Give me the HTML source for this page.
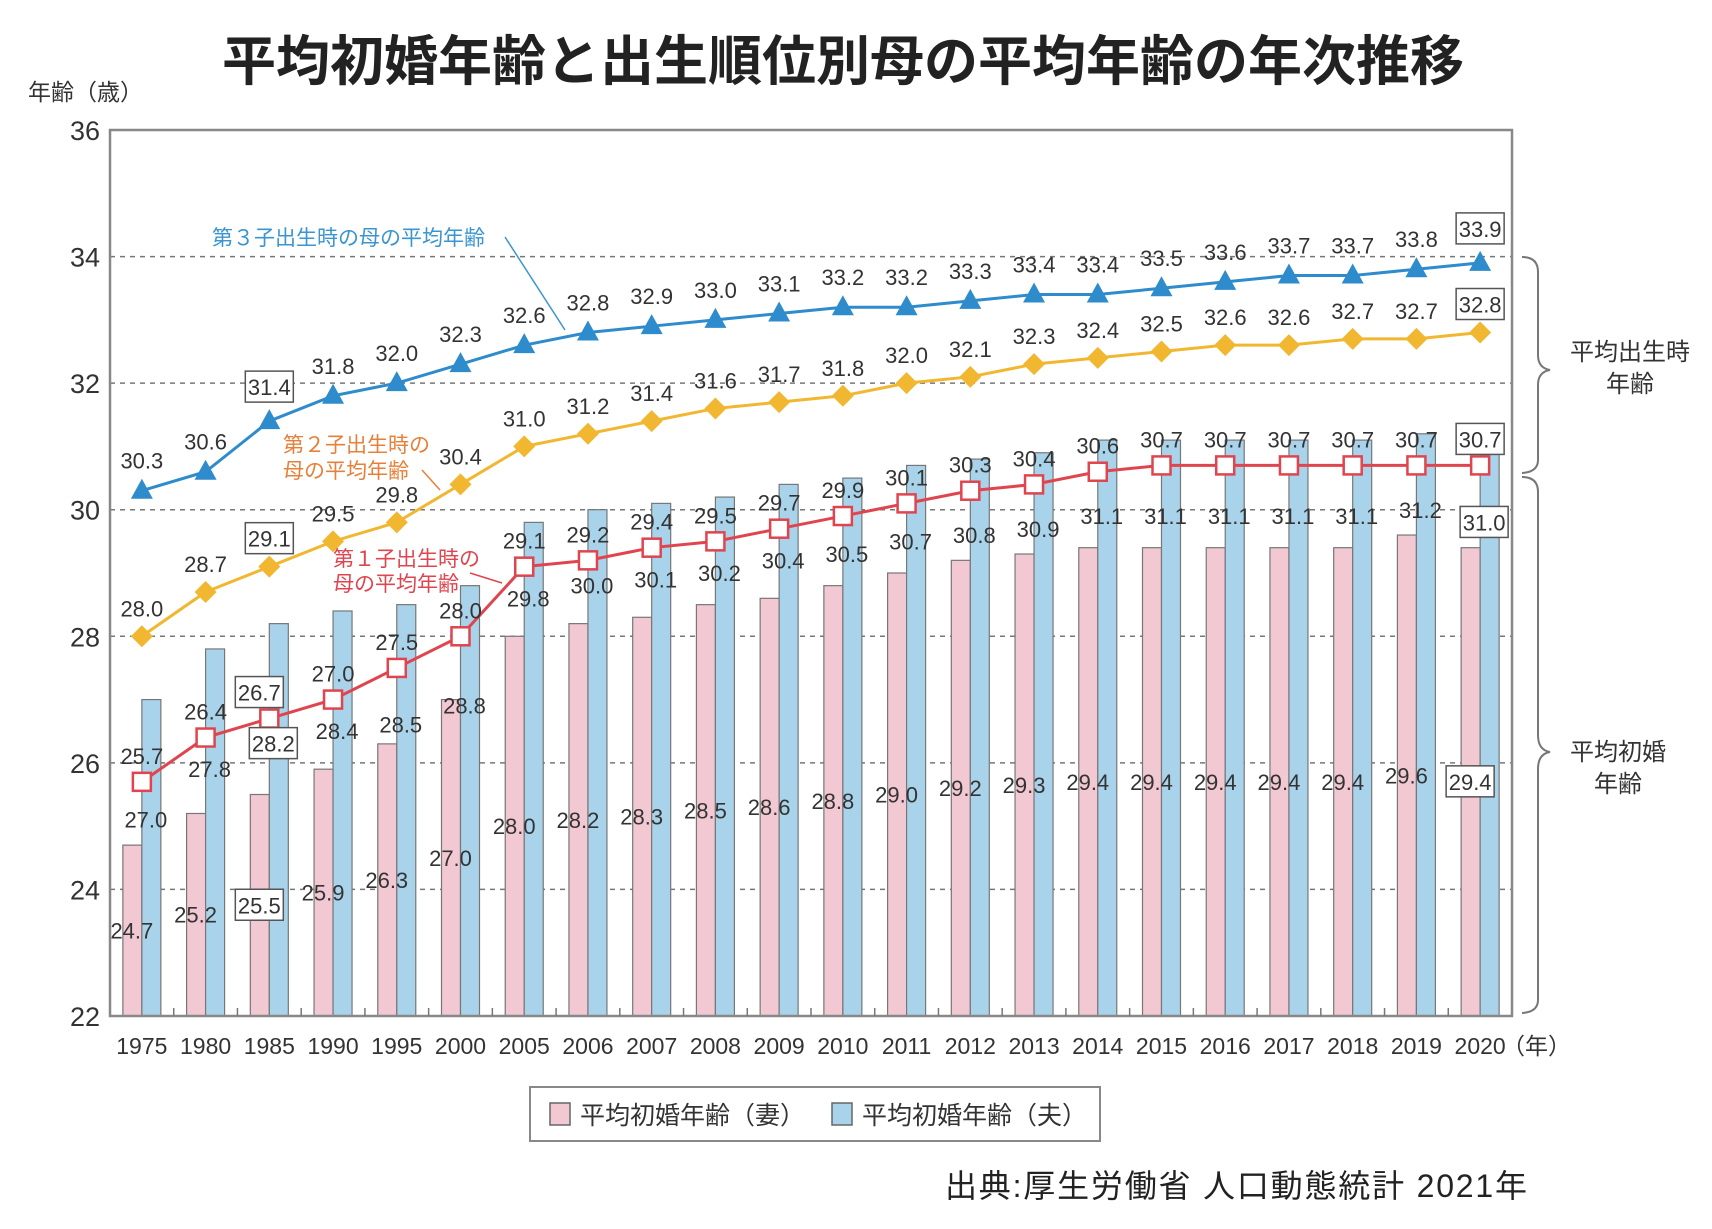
<!DOCTYPE html>
<html><head><meta charset="utf-8">
<style>
html,body{margin:0;padding:0;background:#fff;}
svg text{font-family:"Liberation Sans","Noto Sans CJK JP",sans-serif;}
</style></head>
<body>
<svg id="chart" width="1712" height="1224" viewBox="0 0 1712 1224" xmlns="http://www.w3.org/2000/svg">
<text x="843" y="80" text-anchor="middle" font-size="54" font-weight="bold" fill="#222" style="font-family:'Noto Sans CJK JP',sans-serif">平均初婚年齢と出生順位別母の平均年齢の年次推移</text>
<text x="28" y="100" font-size="23" fill="#333">年齢（歳）</text>
<g id="grid"></g>
<g id="bars"></g>
<g id="lines"></g>
<g id="labels"></g>
<rect x="110" y="130" width="1402" height="886" fill="none" stroke="#888" stroke-width="2.5"/>
<g id="axes"></g>
<text x="212" y="245" font-size="21" fill="#3a95d0">第３子出生時の母の平均年齢</text>
<line x1="505" y1="237" x2="565" y2="330" stroke="#3a95d0" stroke-width="1.5"/>
<text x="283" y="452" font-size="21" fill="#e8803a">第２子出生時の</text>
<text x="283" y="478" font-size="21" fill="#e8803a">母の平均年齢</text>
<line x1="422" y1="470" x2="440" y2="490" stroke="#e8803a" stroke-width="1.5"/>
<text x="333" y="566" font-size="21" fill="#e0454f">第１子出生時の</text>
<text x="333" y="591" font-size="21" fill="#e0454f">母の平均年齢</text>
<line x1="470" y1="573" x2="502" y2="583" stroke="#e0454f" stroke-width="1.5"/>
<path d="M1522 257 Q1538 257 1538 272 L1538 355 Q1538 368 1550 370 Q1538 372 1538 385 L1538 460 Q1538 472 1522 473" fill="none" stroke="#777" stroke-width="2"/>
<text x="1630" y="360" text-anchor="middle" font-size="24" fill="#333">平均出生時</text>
<text x="1630" y="392" text-anchor="middle" font-size="24" fill="#333">年齢</text>
<path d="M1522 477 Q1538 477 1538 492 L1538 735 Q1538 750 1550 752 Q1538 754 1538 769 L1538 1000 Q1538 1012 1522 1013" fill="none" stroke="#777" stroke-width="2"/>
<text x="1618" y="760" text-anchor="middle" font-size="24" fill="#333">平均初婚</text>
<text x="1618" y="792" text-anchor="middle" font-size="24" fill="#333">年齢</text>
<g>
<rect x="530" y="1087" width="570" height="54" fill="#fff" stroke="#888" stroke-width="2"/>
<rect x="550" y="1103" width="20" height="22" fill="#f2c8d2" stroke="#666" stroke-width="1.5"/>
<text x="580" y="1124" font-size="25" fill="#333">平均初婚年齢（妻）</text>
<rect x="832" y="1103" width="20" height="22" fill="#a9d3ea" stroke="#666" stroke-width="1.5"/>
<text x="862" y="1124" font-size="25" fill="#333">平均初婚年齢（夫）</text>
</g>
<text x="945" y="1197" font-size="32" fill="#222" textLength="582">出典:厚生労働省 人口動態統計 2021年</text>
</svg>
<script>
const years = ["1975","1980","1985","1990","1995","2000","2005","2006","2007","2008","2009","2010","2011","2012","2013","2014","2015","2016","2017","2018","2019","2020"];
const thirdChild = [30.3,30.6,31.4,31.8,32.0,32.3,32.6,32.8,32.9,33.0,33.1,33.2,33.2,33.3,33.4,33.4,33.5,33.6,33.7,33.7,33.8,33.9];
const secondChild = [28.0,28.7,29.1,29.5,29.8,30.4,31.0,31.2,31.4,31.6,31.7,31.8,32.0,32.1,32.3,32.4,32.5,32.6,32.6,32.7,32.7,32.8];
const firstChild = [25.7,26.4,26.7,27.0,27.5,28.0,29.1,29.2,29.4,29.5,29.7,29.9,30.1,30.3,30.4,30.6,30.7,30.7,30.7,30.7,30.7,30.7];
const husband = [27.0,27.8,28.2,28.4,28.5,28.8,29.8,30.0,30.1,30.2,30.4,30.5,30.7,30.8,30.9,31.1,31.1,31.1,31.1,31.1,31.2,31.0];
const wife = [24.7,25.2,25.5,25.9,26.3,27.0,28.0,28.2,28.3,28.5,28.6,28.8,29.0,29.2,29.3,29.4,29.4,29.4,29.4,29.4,29.6,29.4];
const yTicks = [22,24,26,28,30,32,34,36];

const NS = "http://www.w3.org/2000/svg";
const L = 110, R = 1512, T = 130, B = 1016, yMin = 22, yMax = 36;
const step = (R - L) / years.length;
function X(i){ return L + (i + 0.5) * step; }
function Y(v){ return B - (v - yMin) / (yMax - yMin) * (B - T); }
function mk(tag, attrs, parent){
  const e = document.createElementNS(NS, tag);
  for (const k in attrs) e.setAttribute(k, attrs[k]);
  parent.appendChild(e); return e;
}
const grid = document.getElementById('grid'), bars = document.getElementById('bars'),
      lines = document.getElementById('lines'), labels = document.getElementById('labels'),
      axes = document.getElementById('axes');

yTicks.forEach(t => {
  if (t > yMin && t < yMax) {
    const g = mk('line', {x1:L, x2:R, y1:Y(t), y2:Y(t), stroke:'#777', 'stroke-width':1.5, 'stroke-dasharray':'5,5'}, grid);
    
    
  }
  const tx = mk('text', {x:100, y:Y(t)+10, 'text-anchor':'end', 'font-size':27, fill:'#333'}, axes);
  tx.textContent = t;
  
  
});

years.forEach((yr, i) => {
  const c = X(i);
  const wb = mk('rect', {x:c-19, y:Y(wife[i]), width:19, height:B-Y(wife[i]), fill:'#f2c8d2', stroke:'#777', 'stroke-width':1.2}, bars);
  
  
  const hb = mk('rect', {x:c, y:Y(husband[i]), width:19, height:B-Y(husband[i]), fill:'#a9d3ea', stroke:'#777', 'stroke-width':1.2}, bars);
  
  
  if (i > 0) {
    const tk = mk('line', {x1:L+i*step, x2:L+i*step, y1:B, y2:B-8, stroke:'#777', 'stroke-width':1.5}, axes);
    
    
  }
  const xl = mk('text', {x:c, y:B+38, 'text-anchor':'middle', 'font-size':23, fill:'#333'}, axes);
  xl.textContent = yr;
  
  
});
const unit = mk('text', {x:R-10, y:B+38, 'font-size':23, fill:'#333'}, axes);
unit.textContent = '（年）';



function series(vals, color, name, marker){
  const pts = vals.map((v,i) => X(i)+','+Y(v)).join(' ');
  const pl = mk('polyline', {points:pts, fill:'none', stroke:color, 'stroke-width':3}, lines);
  
  
  vals.forEach((v,i) => {
    const x = X(i), y = Y(v); let m;
    if (marker === 'tri') m = mk('polygon', {points:`${x},${y-12} ${x-11},${y+8} ${x+11},${y+8}`, fill:color}, lines);
    else if (marker === 'dia') m = mk('polygon', {points:`${x},${y-11} ${x+11},${y} ${x},${y+11} ${x-11},${y}`, fill:color}, lines);
    else m = mk('rect', {x:x-9, y:y-9, width:18, height:18, fill:'#fff', stroke:color, 'stroke-width':2.5}, lines);
    
    
  });
}
series(thirdChild, '#2f8ccc', 'third-child', 'tri');
series(secondChild, '#f2b731', 'second-child', 'dia');
series(firstChild, '#e0454f', 'first-child', 'sq');

function label(v, x, y, boxed, name){
  if (boxed) {
    const b = mk('rect', {x:x-24, y:y-24, width:48, height:31, fill:'#fff', stroke:'#555', 'stroke-width':1.5}, labels);
    
    
  }
  const t = mk('text', {x:x, y:y, 'text-anchor':'middle', 'font-size':22, fill:'#333'}, labels);
  t.textContent = v.toFixed(1);
  
  
}
years.forEach((yr, i) => {
  const boxed = (i === 2 || i === years.length - 1);
  const xo = X(i);
  label(thirdChild[i], xo, Y(thirdChild[i]) - (boxed ? 26 : 22), boxed, 'third-child-value-' + yr);
  label(secondChild[i], xo, Y(secondChild[i]) - 20, boxed, 'second-child-value-' + yr);
  label(firstChild[i], xo - (i === 2 ? 10 : 0), Y(firstChild[i]) - 18, boxed, 'first-child-value-' + yr);
  label(husband[i], xo + 4, Y(husband[i]) + (i < 6 ? 128 : 84), boxed, 'husband-value-' + yr);
  label(wife[i], xo - 10, Y(22 + (wife[i] - 22) * 0.5) + 8, boxed, 'wife-value-' + yr);
});
</script>
</body></html>
